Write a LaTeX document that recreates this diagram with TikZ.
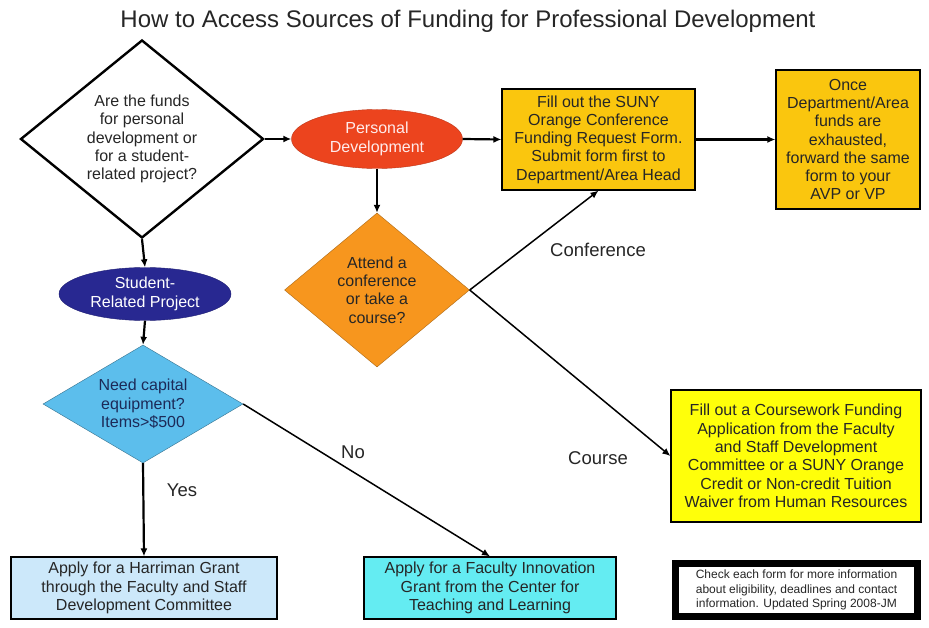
\documentclass[tikz,border=0pt]{standalone}
\usepackage{fontspec}
\setmainfont{Liberation Sans}
\usetikzlibrary{shapes.geometric,arrows.meta}
\definecolor{inkgray}{RGB}{38,38,38}
\definecolor{inknavy}{RGB}{28,42,88}
\definecolor{goldbox}{RGB}{250,198,14}
\definecolor{lemonbox}{RGB}{255,255,10}
\definecolor{persred}{RGB}{236,68,30}
\definecolor{attendorange}{RGB}{247,150,30}
\definecolor{studentnavy}{RGB}{40,40,145}
\definecolor{capitalblue}{RGB}{92,190,236}
\definecolor{paleblue}{RGB}{204,232,250}
\definecolor{innocyan}{RGB}{100,236,242}
\begin{document}
\begin{tikzpicture}[x=1pt,y=-1pt,
txt/.style = {text=inkgray,font=\fontsize{16}{18.3}\selectfont,align=center},
decision/.style = {diamond,draw,inner sep=0pt,txt},
oval/.style = {ellipse,draw,inner sep=0pt,txt,text=white},
panel/.style = {rectangle,draw,line width=1.2pt,inner sep=0pt,txt},
answer/.style = {text=inkgray,font=\fontsize{18.5}{21}\selectfont},
flow/.style = {-{Latex[length=8pt,width=7pt]},line width=2.2pt},
side flow/.style = {-{Latex[length=8pt,width=7pt]},line width=1.5pt}]
\fill[white] (0,0) rectangle (929,628);
\useasboundingbox (0,0) rectangle (929,628);
\node[text=inkgray,font=\fontsize{24}{28}\selectfont] (title) at (468,21) {How to Access Sources of Funding for Professional Development};
\node[decision,fill=white,line width=2.4pt,shape aspect=1.23,minimum width=243pt,minimum height=198pt] (funds) at (142,139) {Are the funds\\for personal\\development or\\for a student-\\related project?};
\node[oval,fill=persred,draw=persred!80!black,text=white!92!red,minimum width=171pt,minimum height=59pt] (personal) at (377,139) {Personal\\Development};
\node[panel,fill=goldbox,minimum width=193pt,minimum height=101pt] (confform) at (598.5,139.5) {Fill out the SUNY\\Orange Conference\\Funding Request Form.\\Submit form first to\\Department/Area Head};
\node[panel,fill=goldbox,minimum width=144pt,minimum height=139pt] (exhaust) at (848,139.5) {Once\\Department/Area\\funds are\\exhausted,\\forward the same\\form to your\\AVP or VP};
\node[decision,fill=attendorange,draw=attendorange!70!black,shape aspect=1.2,minimum width=185pt,minimum height=154pt] (attend) at (377,290) {Attend a\\conference\\or take a\\course?};
\node[oval,fill=studentnavy,draw=studentnavy!80!black,minimum width=172pt,minimum height=53pt] (student) at (145,294) {Student-\\Related Project};
\node[decision,fill=capitalblue,draw=capitalblue!60!black,text=inknavy,shape aspect=1.7,minimum width=200pt,minimum height=118pt] (capital) at (143,404) {Need capital\\equipment?\\Items>\$500};
\node[panel,fill=lemonbox,minimum width=250pt,minimum height=132pt] (coursework) at (796,456) {Fill out a Coursework Funding\\Application from the Faculty\\and Staff Development\\Committee or a SUNY Orange\\Credit or Non-credit Tuition\\Waiver from Human Resources};
\node[panel,fill=paleblue,minimum width=266pt,minimum height=62pt] (harriman) at (144,588) {Apply for a Harriman Grant\\through the Faculty and Staff\\Development Committee};
\node[panel,fill=innocyan,minimum width=252pt,minimum height=62pt] (innovation) at (490,588) {Apply for a Faculty Innovation\\Grant from the Center for\\Teaching and Learning};
\node[panel,fill=white,draw=black,line width=7pt,minimum width=242pt,minimum height=53pt,font=\fontsize{12}{14.5}\selectfont] (note) at (796.5,590) {Check each form for more information\\about eligibility, deadlines and contact\\information. Updated Spring 2008-JM};
\node[answer] (conf) at (598,250) {Conference};
\node[answer] (crs) at (598,458) {Course};
\node[answer] (no) at (353,452) {No};
\node[answer] (yes) at (182,490) {Yes};
\draw[flow] (funds.east) -- (personal.west);
\draw[flow] (personal.east) -- (confform.west);
\draw[flow] (confform.east) -- (exhaust.west);
\draw[flow] (personal.south) -- (attend.north);
\draw[flow] (funds.south) -- (student.north);
\draw[flow] (student.south) -- (capital.north);
\draw[side flow] (attend.east) -- (confform.south);
\draw[side flow] (attend.east) -- (coursework.west);
\draw[flow] (capital.south) -- (harriman.north);
\draw[side flow] (capital.east) -- (innovation.north);
\end{tikzpicture}
\end{document}
